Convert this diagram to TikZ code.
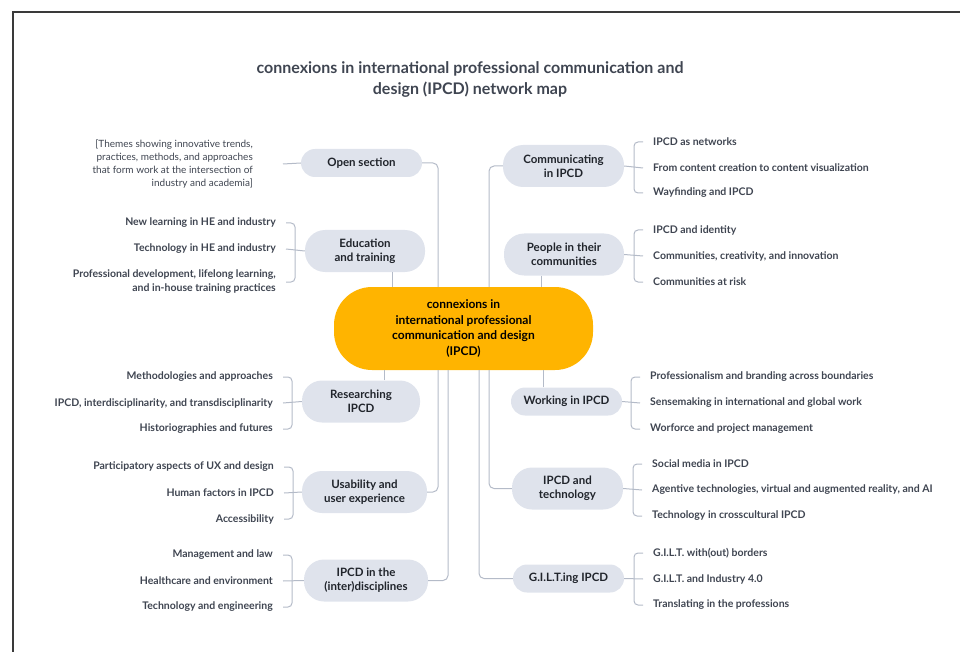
\documentclass[tikz,border=0pt]{standalone}
\usepackage{fontspec}
\setmainfont{Lato}

\definecolor{hubfill}{HTML}{FFB400}
\definecolor{topicfill}{HTML}{DFE3EC}
\definecolor{linkgrey}{HTML}{B4BBC8}
\definecolor{leafgrey}{HTML}{3F4551}
\definecolor{topictext}{HTML}{20242B}
\definecolor{framegrey}{HTML}{3A3A3A}

\begin{document}
\begin{tikzpicture}[x=1pt,y=-1pt,
  hub/.style={fill=hubfill,rounded corners=38,minimum width=259,minimum height=83,align=center,text=black,font=\fontsize{12}{15.5}\selectfont\bfseries},
  topic/.style={fill=topicfill,rounded corners=20,minimum height=42,align=center,text=topictext,font=\fontsize{11.5}{14.3}\selectfont\bfseries},
  slim/.style={rounded corners=14,minimum height=28},
  leaf/.style={inner sep=0,yshift=-1,text=leafgrey,font=\fontsize{10.5}{14}\selectfont\bfseries},
  leafl/.style={leaf,anchor=east,align=right},
  leafr/.style={leaf,anchor=west,align=left},
  link/.style={draw=linkgrey,line width=1pt,rounded corners=5}]

\newcommand{\leafsleft}[4]{% topic, top leaf, middle leaf, bottom leaf
\draw[link] (#1.west) -- ([xshift=10]#3.east);
\draw[link,rounded corners=4] ([xshift=10]#2.east) -- ++(9,0) |- ([xshift=10]#4.east);
}
\newcommand{\leafsright}[4]{% topic, top leaf, middle leaf, bottom leaf
\draw[link] (#1.east) -- ([xshift=-10]#3.west);
\draw[link,rounded corners=4] ([xshift=-10]#2.west) -- ++(-9,0) |- ([xshift=-10]#4.west);
}

\useasboundingbox (0,0) rectangle (960,652);

%frame
\draw[framegrey,line width=1.2pt] (13,652) -- (13,12) -- (960,12);

%title
\node[align=center,text=leafgrey,font=\fontsize{16}{21}\selectfont\bfseries] (title) at (470,79.5) {connexions in international professional communication and\\design (IPCD) network map};

%hub
\node[hub] (hub) at (463.5,328.5) {connexions in\\international professional\\communication and design\\(IPCD)};

%topics left
\node[topic,slim,minimum width=121] (open) at (361.5,163) {Open section};
\node[topic,minimum width=120] (edu) at (365,251) {Education\\and training};
\node[topic,minimum width=118] (research) at (361,401.5) {Researching\\IPCD};
\node[topic,minimum width=125] (usab) at (364.5,492) {Usability and\\user experience};
\node[topic,minimum width=124] (inter) at (366,580.5) {IPCD in the\\(inter)disciplines};

%topics right
\node[topic,minimum width=121] (comm) at (563.5,166) {Communicating\\in IPCD};
\node[topic,minimum width=120] (people) at (564,254.5) {People in their\\communities};
\node[topic,slim,minimum width=111] (working) at (566.5,401.5) {Working in IPCD};
\node[topic,minimum width=111] (tech) at (567.5,488.5) {IPCD and\\technology};
\node[topic,slim,minimum width=111] (gilt) at (568.5,578.5) {G.I.L.T.ing IPCD};

%hub to topics
\draw[link] (open.east) -| ([xshift=-25.5]hub.north);
\draw[link] ([xshift=27]edu.south) -- ([xshift=-71.5]hub.north);
\draw[link] (comm.west) -| ([xshift=25.5]hub.north);
\draw[link] ([xshift=-23]people.south) -- ([xshift=77.5]hub.north);
\draw[link] ([xshift=23]research.north) -- ([xshift=-79.5]hub.south);
\draw[link] ([xshift=-23.5]working.north) -- ([xshift=79.5]hub.south);
\draw[link] (usab.east) -| ([xshift=-25.5]hub.south);
\draw[link] (inter.east) -| ([xshift=-15.5]hub.south);
\draw[link] (tech.west) -| ([xshift=25.5]hub.south);
\draw[link] (gilt.west) -| ([xshift=15.5]hub.south);

%open section
\node[anchor=east,align=right,inner sep=0,text=leafgrey,font=\fontsize{10}{13.3}\selectfont] (openA) at (253,164) {[Themes showing innovative trends,\\practices, methods, and approaches\\that form work at the intersection of\\industry and academia]};
\draw[link] (open.west) -- ([xshift=30]openA.east);

%education
\node[leafl] (eduA) at (276,222) {New learning in HE and industry};
\node[leafl] (eduB) at (276,248) {Technology in HE and industry};
\node[leafl] (eduC) at (276,281) {Professional development, lifelong learning,\\and in-house training practices};
\leafsleft{edu}{eduA}{eduB}{eduC}

%researching
\node[leafl] (resA) at (273,376) {Methodologies and approaches};
\node[leafl] (resB) at (273,402) {IPCD, interdisciplinarity, and transdisciplinarity};
\node[leafl] (resC) at (273,428) {Historiographies and futures};
\leafsleft{research}{resA}{resB}{resC}

%usability
\node[leafl] (usabA) at (274,466) {Participatory aspects of UX and design};
\node[leafl] (usabB) at (274,492) {Human factors in IPCD};
\node[leafl] (usabC) at (274,518) {Accessibility};
\leafsleft{usab}{usabA}{usabB}{usabC}

%disciplines
\node[leafl] (interA) at (273,554) {Management and law};
\node[leafl] (interB) at (273,580) {Healthcare and environment};
\node[leafl] (interC) at (273,606) {Technology and engineering};
\leafsleft{inter}{interA}{interB}{interC}

%communicating
\node[leafr] (commA) at (653,141) {IPCD as networks};
\node[leafr] (commB) at (653,167) {From content creation to content visualization};
\node[leafr] (commC) at (653,192) {Wayfinding and IPCD};
\leafsright{comm}{commA}{commB}{commC}

%people
\node[leafr] (peopleA) at (653,229) {IPCD and identity};
\node[leafr] (peopleB) at (653,255) {Communities, creativity, and innovation};
\node[leafr] (peopleC) at (653,281) {Communities at risk};
\leafsright{people}{peopleA}{peopleB}{peopleC}

%working
\node[leafr] (workA) at (650,376) {Professionalism and branding across boundaries};
\node[leafr] (workB) at (650,402) {Sensemaking in international and global work};
\node[leafr] (workC) at (650,428) {Worforce and project management};
\leafsright{working}{workA}{workB}{workC}

%technology
\node[leafr] (techA) at (652,463) {Social media in IPCD};
\node[leafr] (techB) at (652,489) {Agentive technologies, virtual and augmented reality, and AI};
\node[leafr] (techC) at (652,515) {Technology in crosscultural IPCD};
\leafsright{tech}{techA}{techB}{techC}

%gilt
\node[leafr] (giltA) at (653,552) {G.I.L.T. with(out) borders};
\node[leafr] (giltB) at (653,578) {G.I.L.T. and Industry 4.0};
\node[leafr] (giltC) at (653,604) {Translating in the professions};
\leafsright{gilt}{giltA}{giltB}{giltC}

\end{tikzpicture}
\end{document}
